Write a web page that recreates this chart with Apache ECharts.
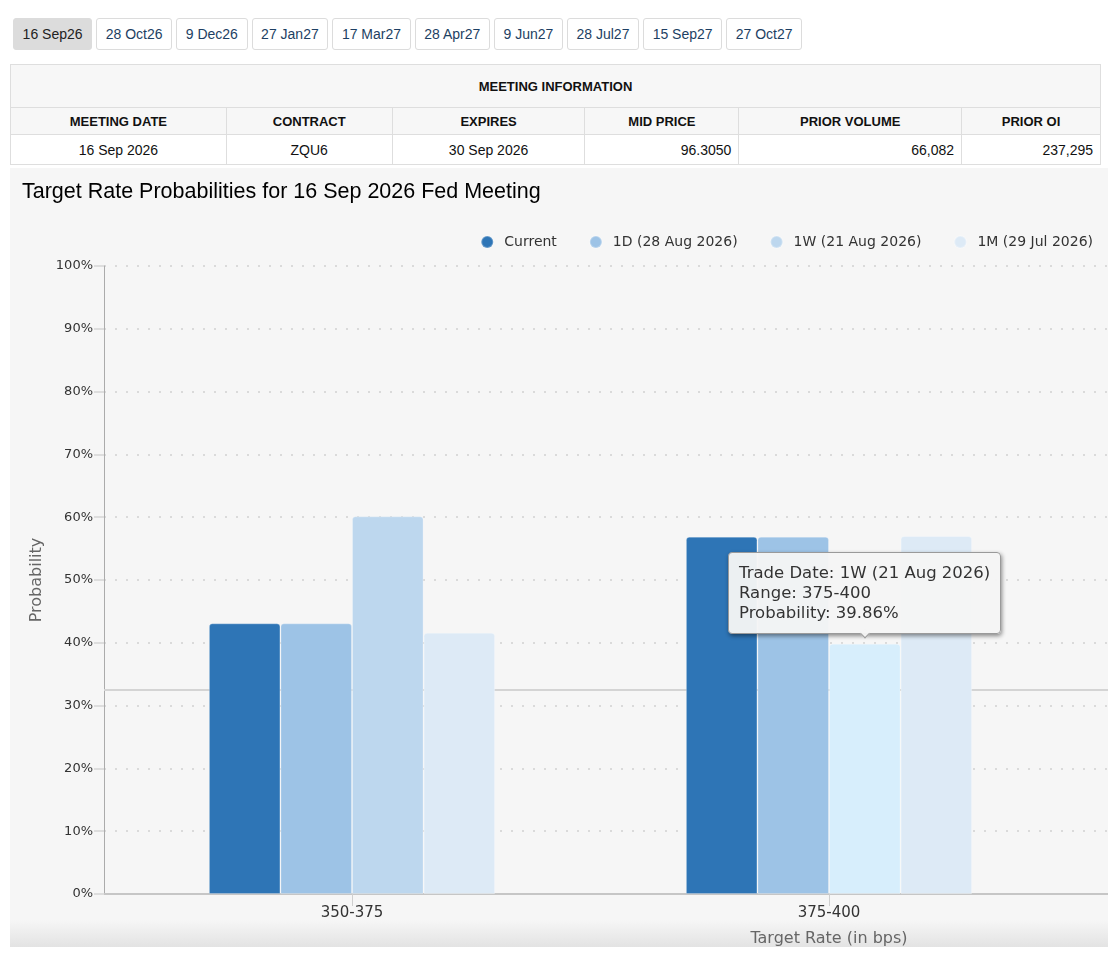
<!DOCTYPE html>
<html lang="en">
<head>
<meta charset="UTF-8">
<title>Target Rate Probabilities</title>
<script src="https://cdn.jsdelivr.net/npm/echarts@6/dist/echarts.min.js"></script>
<style>
    html, body { margin: 0; padding: 0; overflow: hidden; background: #fff; }
    body { width: 1108px; height: 954px; position: relative; font-family: "Liberation Sans", Arial, sans-serif; }
    .tabs { position: absolute; left: 13px; top: 18px; display: flex; }
    .tabs button {
        height: 32px; margin: 0 4px 0 0; padding: 0 8.6px;
        font: 14px "Liberation Sans", Arial, sans-serif; color: #1d3f63;
        background: #fff; border: 1px solid #dcdcdc; border-radius: 3px;
    }
    .tabs button.active { background: #dcdcdc; color: #222; border-color: #dcdcdc; }
    table.info {
        position: absolute; left: 10px; top: 64px; width: 1091px;
        border-collapse: collapse; font-size: 14px; color: #111;
    }
    table.info td, table.info th { border: 1px solid #dedede; padding: 0 7px; }
    table.info th { font-size: 13px; font-weight: bold; background: #f7f7f7; text-align: center; }
    table.info tr.top th { height: 42px; }
    table.info tr.cols th { height: 26px; }
    table.info tr.vals td { height: 29px; background: #fff; }
    .c { text-align: center; }
    .r { text-align: right; }
    #wrap {
        position: absolute; left: 10px; top: 168px; width: 1098px; height: 779px;
        background: linear-gradient(to bottom, #f6f6f6 0, #f6f6f6 752px, #e3e3e3 779px);
    }
    #chart { width: 1098px; height: 779px; }
</style>
</head>
<body>
    <div class="tabs">
        <button class="active">16 Sep26</button>
        <button>28 Oct26</button>
        <button>9 Dec26</button>
        <button>27 Jan27</button>
        <button>17 Mar27</button>
        <button>28 Apr27</button>
        <button>9 Jun27</button>
        <button>28 Jul27</button>
        <button>15 Sep27</button>
        <button>27 Oct27</button>
    </div>

    <table class="info">
        <colgroup>
            <col style="width:216px"><col style="width:166px"><col style="width:193px">
            <col style="width:154px"><col style="width:223px"><col style="width:139px">
        </colgroup>
        <tr class="top"><th colspan="6">MEETING INFORMATION</th></tr>
        <tr class="cols">
            <th>MEETING DATE</th><th>CONTRACT</th><th>EXPIRES</th>
            <th>MID PRICE</th><th>PRIOR VOLUME</th><th>PRIOR OI</th>
        </tr>
        <tr class="vals">
            <td class="c">16 Sep 2026</td><td class="c">ZQU6</td><td class="c">30 Sep 2026</td>
            <td class="r">96.3050</td><td class="r">66,082</td><td class="r">237,295</td>
        </tr>
    </table>

    <div id="wrap"><div id="chart"></div></div>

<script>
    // target rate ranges (bps)
    var categories = ['350-375', '375-400'];

    // probabilities in %
    var seriesNames = ['Current', '1D (28 Aug 2026)', '1W (21 Aug 2026)', '1M (29 Jul 2026)'];
    var current  = [43.10, 56.90];
    var oneDay   = [43.10, 56.90];
    var oneWeek  = [60.14, 39.86];
    var oneMonth = [41.60, 57.00];
    var seriesColors = ['#2e75b6', '#9dc3e6', '#bdd7ee', '#ddeaf6'];

    // mouse crosshair level at the time of the screenshot
    var crosshairValue = 32.47;

    var chart = echarts.init(document.getElementById('chart'));

    function barSeries(i, values) {
        return {
            name: seriesNames[i],
            type: 'bar',
            xAxisIndex: 1,
            yAxisIndex: 1,
            z: 2,
            barGap: '0%',
            barCategoryGap: '40%',
            data: values,
            itemStyle: {
                color: seriesColors[i],
                borderRadius: [3, 3, 0, 0],
                borderColor: 'rgba(255,255,255,0.25)',
                borderWidth: 1
            },
            emphasis: {
                focus: 'none',
                itemStyle: { color: i === 2 ? '#d7eefc' : seriesColors[i] }
            }
        };
    }

    var option = {
        animation: false,
        textStyle: { fontFamily: 'DejaVu Sans' },
        title: {
            text: 'Target Rate Probabilities for 16 Sep 2026 Fed Meeting',
            left: 7,
            top: 8,
            textStyle: {
                fontFamily: 'Liberation Sans',
                fontSize: 21.5,
                fontWeight: 'normal',
                color: '#000'
            }
        },
        legend: {
            data: seriesNames,
            right: 10,
            top: 62,
            icon: 'circle',
            itemWidth: 24,
            itemHeight: 12,
            itemGap: 32,
            textStyle: { fontSize: 14, color: '#333' }
        },
        tooltip: {
            trigger: 'item',
            position: 'top',
            alwaysShowContent: true,
            transitionDuration: 0,
            backgroundColor: 'rgba(245,245,245,0.96)',
            borderColor: '#9a9a9a',
            borderWidth: 1,
            padding: [10, 10],
            textStyle: { fontFamily: 'DejaVu Sans', fontSize: 16.5, color: '#333', lineHeight: 20 },
            extraCssText: 'border-radius:4px;box-shadow:1px 2px 4px rgba(0,0,0,0.45);line-height:20px;',
            formatter: function (p) {
                return 'Trade Date: ' + p.seriesName +
                    '<br/>Range: ' + p.name +
                    '<br/>Probability: ' + p.value.toFixed(2) + '%';
            }
        },
        grid: [
            // background grid: y axis, split lines, bottom axis line
            { left: 94, top: 98, right: 0, height: 628, outerBoundsMode: 'none' },
            // bar grid: one slot per range, wider than the visible page
            { left: 103.5, top: 98, width: 1431, height: 628, outerBoundsMode: 'none' }
        ],
        xAxis: [
            {
                gridIndex: 0,
                type: 'value',
                min: 0,
                max: 1,
                axisLine: { show: true, lineStyle: { color: '#c6c6c6', width: 2 } },
                axisTick: { show: false },
                axisLabel: { show: false },
                splitLine: { show: false }
            },
            {
                gridIndex: 1,
                type: 'category',
                data: categories,
                max: 2,
                axisLine: { show: false },
                axisTick: { show: true, alignWithLabel: true, length: 12, lineStyle: { color: '#cfcfcf' } },
                axisLabel: { fontSize: 15, color: '#333', margin: 12 },
                name: 'Target Rate (in bps)',
                nameLocation: 'middle',
                nameGap: 37,
                nameTextStyle: { fontSize: 16, color: '#666' }
            }
        ],
        yAxis: [
            {
                gridIndex: 0,
                type: 'value',
                min: 0,
                max: 100,
                interval: 10,
                axisLine: { show: true, lineStyle: { color: '#ababab', width: 1 } },
                axisTick: { show: true, length: 10, lineStyle: { color: '#dddddd', width: 2 } },
                axisLabel: { formatter: '{value}%', fontSize: 13, color: '#333', margin: 11 },
                splitLine: { show: true, lineStyle: { color: '#dadada', width: 2, type: [2, 9] } },
                name: 'Probability',
                nameLocation: 'middle',
                nameGap: 59,
                nameTextStyle: { fontSize: 16, color: '#666' }
            },
            {
                gridIndex: 1,
                type: 'value',
                min: 0,
                max: 100,
                show: false
            }
        ],
        series: [
            barSeries(0, current),
            barSeries(1, oneDay),
            barSeries(2, oneWeek),
            barSeries(3, oneMonth),
            {
                // crosshair line, drawn behind the bars
                type: 'line',
                xAxisIndex: 0,
                yAxisIndex: 0,
                z: 1,
                data: [],
                silent: true,
                tooltip: { show: false },
                markLine: {
                    silent: true,
                    z: 1,
                    symbol: 'none',
                    label: { show: false },
                    lineStyle: { color: '#d4d4d4', width: 2, type: 'solid' },
                    data: [{ yAxis: crosshairValue }]
                }
            }
        ]
    };

    chart.setOption(option);

    // hovered bar: 1W at 375-400
    chart.dispatchAction({ type: 'highlight', seriesIndex: 2, dataIndex: 1 });
    chart.dispatchAction({ type: 'showTip', seriesIndex: 2, dataIndex: 1 });
</script>
</body>
</html>
